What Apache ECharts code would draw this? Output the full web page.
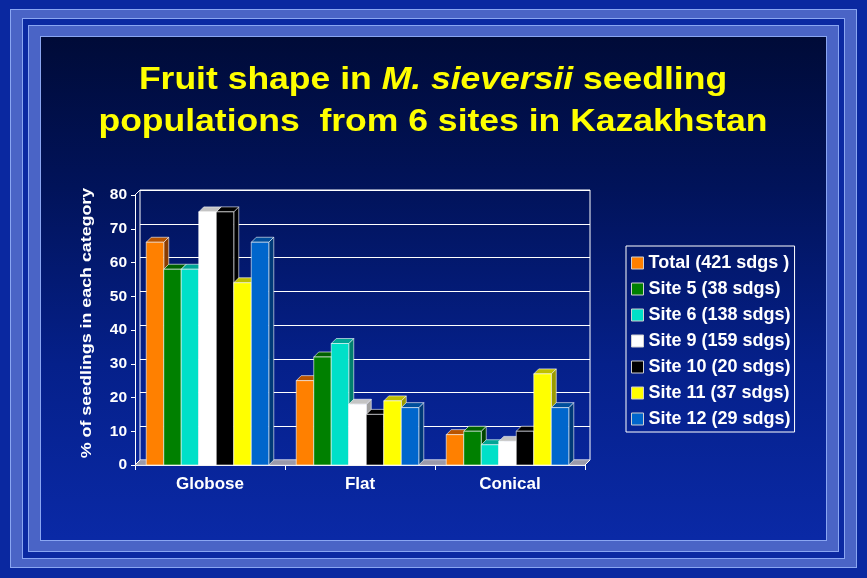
<!DOCTYPE html>
<html>
<head>
<meta charset="utf-8">
<script src="https://cdn.jsdelivr.net/npm/echarts@6/dist/echarts.min.js"></script>
<style>
html,body{margin:0;padding:0;width:867px;height:578px;overflow:hidden;background:#0a28a0;}
.box{position:absolute;box-sizing:border-box;}
#b1{left:10px;top:9px;width:847px;height:559px;background:#4a64c6;border:1px solid #8aa6f2;}
#g1{left:22px;top:18px;width:823px;height:541px;background:#0b29a2;border:1px solid #8aa6f2;}
#b2{left:28px;top:25px;width:811px;height:527px;background:#4a64c6;border:1px solid #8aa6f2;}
#inner{left:40px;top:36px;width:787px;height:505px;background:linear-gradient(to bottom,#000b38 0%,#01135a 30%,#05208a 65%,#0a29a6 100%);border:1px solid #8aa6f2;}
#chart{position:absolute;left:0;top:0;width:867px;height:578px;}
</style>
</head>
<body>
<div class="box" id="b1"></div>
<div class="box" id="g1"></div>
<div class="box" id="b2"></div>
<div class="box" id="inner"></div>
<div id="chart"></div>
<script>
// ---- data ----
const categories = ['Globose', 'Flat', 'Conical'];
const seriesNames = ['Total (421 sdgs )', 'Site 5 (38 sdgs)', 'Site 6 (138 sdgs)', 'Site 9 (159 sdgs)', 'Site 10 (20 sdgs)', 'Site 11 (37 sdgs)', 'Site 12 (29 sdgs)'];
const total  = [66, 25, 9];
const site5  = [58, 32, 10];
const site6  = [58, 36, 6];
const site9  = [75, 18, 7];
const site10 = [75, 15, 10];
const site11 = [54, 19, 27];
const site12 = [66, 17, 17];
const yTicks = [0, 10, 20, 30, 40, 50, 60, 70, 80];

const seriesValues = [total, site5, site6, site9, site10, site11, site12];
const palette = [
  {front:'#ff8000', top:'#b85400', side:'#8a3c00'},
  {front:'#008000', top:'#006000', side:'#004400'},
  {front:'#00e0c8', top:'#00a596', side:'#00806e'},
  {front:'#ffffff', top:'#c4c4c4', side:'#a0a0a0'},
  {front:'#000000', top:'#000000', side:'#000000'},
  {front:'#ffff00', top:'#c0c000', side:'#9a9a00'},
  {front:'#0066cc', top:'#004e9c', side:'#003a78'}
];
const D = 5;            // 3D depth in px
const BAR_FRAC = 0.1167; // bar width as fraction of category band
const FONT = "'Liberation Sans', Arial, sans-serif";
const EDGE = 'rgba(255,255,255,0.75)';

function barRenderer(idx) {
  const c = palette[idx];
  return function (params, api) {
    const cat = api.value(0), val = api.value(1);
    const band = api.size([1, 0])[0];
    const bw = band * BAR_FRAC;
    const base = api.coord([cat, 0]);
    const topPt = api.coord([cat, val]);
    const x0 = base[0] - 3.5 * bw - D / 2 + idx * bw;
    const yT = topPt[1], yB = base[1];
    const st = {stroke: EDGE, lineWidth: 0.8};
    return {
      type: 'group',
      children: [
        {type:'polygon', shape:{points:[[x0+bw,yT],[x0+bw+D,yT-D],[x0+bw+D,yB-D],[x0+bw,yB]]}, style:Object.assign({fill:c.side}, st)},
        {type:'polygon', shape:{points:[[x0,yT],[x0+D,yT-D],[x0+bw+D,yT-D],[x0+bw,yT]]}, style:Object.assign({fill:c.top}, st)},
        {type:'rect', shape:{x:x0, y:yT, width:bw, height:yB-yT}, style:Object.assign({fill:c.front}, st)}
      ]
    };
  };
}

function frameRenderer(params, api) {
  const cs = params.coordSys;
  const x = cs.x, y = cs.y, w = cs.width, h = cs.height;
  const yb = y + h;
  const ln = {stroke:'#ffffff', lineWidth:1};
  return {
    type:'group',
    children:[
      {type:'polygon', shape:{points:[[x,yb],[x+w,yb],[x+w+D,yb-D],[x+D,yb-D]]}, style:{fill:'#9a9aaa', stroke:'#c8c8d8', lineWidth:0.6}},
      {type:'line', shape:{x1:x, y1:y, x2:x+D, y2:y-D}, style:ln},
      {type:'line', shape:{x1:x, y1:yb, x2:x+D, y2:yb-D}, style:ln},
      {type:'line', shape:{x1:x+w, y1:yb, x2:x+w+D, y2:yb-D}, style:ln}
    ]
  };
}

const series = [{
  type:'custom', name:'frame', xAxisIndex:0, yAxisIndex:0, silent:true, z:1,
  renderItem: frameRenderer, data:[[0, 0]]
}];
seriesValues.forEach(function (vals, i) {
  series.push({
    type:'custom', name:seriesNames[i], xAxisIndex:0, yAxisIndex:0, z:2,
    itemStyle:{color:palette[i].front},
    encode:{x:0, y:1},
    renderItem: barRenderer(i),
    data: vals.map(function (v, k) { return [k, v]; })
  });
});

const chart = echarts.init(document.getElementById('chart'), null, {renderer:'canvas'});
chart.setOption({
  backgroundColor:'transparent',
  animation:false,
  textStyle:{fontFamily:FONT},
  grid:[
    {left:135, top:195, width:450, height:270},
    {left:140, top:190, width:450, height:270, show:true, borderColor:'#ffffff', borderWidth:1, backgroundColor:'transparent'}
  ],
  xAxis:[
    {type:'category', gridIndex:0, data:categories, boundaryGap:true,
     axisLine:{lineStyle:{color:'#ffffff', width:1}},
     axisTick:{show:true, length:5, lineStyle:{color:'#ffffff'}},
     axisLabel:{color:'#ffffff', fontSize:17, fontWeight:'bold', fontFamily:FONT, margin:11},
     splitLine:{show:false}},
    {type:'category', gridIndex:1, data:categories, show:false}
  ],
  yAxis:[
    {type:'value', gridIndex:0, min:yTicks[0], max:yTicks[yTicks.length-1], interval:10,
     axisLine:{show:true, lineStyle:{color:'#ffffff', width:1}},
     axisTick:{show:true, length:4, lineStyle:{color:'#ffffff'}},
     axisLabel:{color:'#ffffff', fontSize:15.5, fontWeight:'bold', fontFamily:FONT, margin:8},
     splitLine:{show:false}},
    {type:'value', gridIndex:1, min:yTicks[0], max:yTicks[yTicks.length-1], interval:10,
     axisLine:{show:false}, axisTick:{show:false}, axisLabel:{show:false},
     splitLine:{show:true, lineStyle:{color:'#ffffff', width:1}}}
  ],
  legend:{
    orient:'vertical', left:626, top:246,
    data:seriesNames,
    icon:'rect', itemWidth:12, itemHeight:12, itemGap:6,
    itemStyle:{borderColor:'#d0d0d0', borderWidth:1},
    textStyle:{color:'#ffffff', fontSize:18, fontWeight:'bold', fontFamily:FONT, lineHeight:20},
    borderColor:'#ffffff', borderWidth:1, padding:[7, 4, 3, 5]
  },
  graphic:[
    {type:'text', x:433, y:101, scaleX:1.11, z:10,
     style:{
       text:'Fruit shape in {i|M. sieversii} seedling\npopulations  from 6 sites in Kazakhstan',
       fill:'#ffff00', fontSize:32, fontWeight:'bold', fontFamily:FONT,
       align:'center', verticalAlign:'middle', lineHeight:42,
       rich:{i:{fontStyle:'italic', fontWeight:'bold', fontSize:32, fontFamily:FONT, fill:'#ffff00', lineHeight:42}}
     }},
    {type:'text', x:87, y:323, rotation:Math.PI/2, scaleX:1.15, z:10,
     style:{
       text:'% of seedlings in each category',
       fill:'#ffffff', fontSize:15.5, fontWeight:'bold', fontFamily:FONT,
       align:'center', verticalAlign:'middle'
     }}
  ],
  series:series
});
</script>
</body>
</html>
